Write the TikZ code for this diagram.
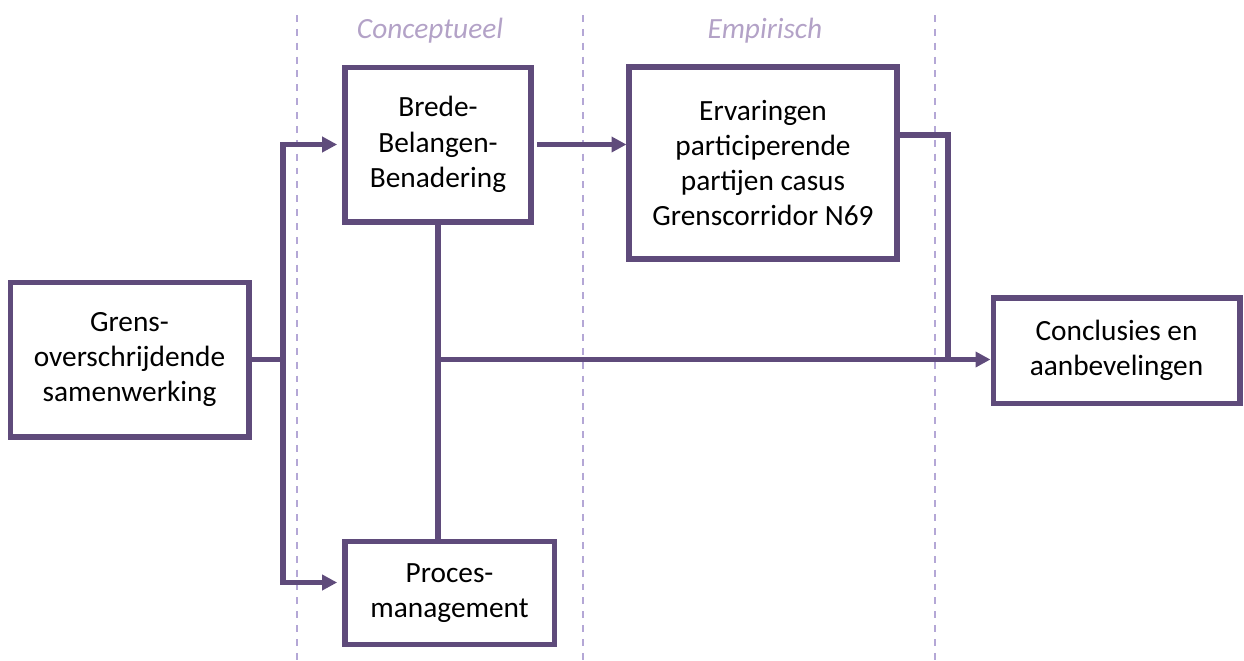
\documentclass[tikz,border=0pt]{standalone}
\usepackage{fontspec}
\setmainfont{Carlito}
\usetikzlibrary{positioning}
\usetikzlibrary{arrows.meta}
\definecolor{paars}{HTML}{5F4B7B}
\definecolor{lichtpaars}{HTML}{B4A7D6}
\definecolor{faselabel}{HTML}{B3A2C7}

\begin{document}
\begin{tikzpicture}[x=0.375pt,y=-0.375pt,>={Triangle[length=5.6pt,width=5.6pt]},
			rect/.style={draw=paars, 
				line width=1.9pt,
				rectangle, 
				fill=white,
				inner sep=2pt,
				font=\fontsize{11}{13.2}\selectfont,
				align=center},
			conn/.style={draw=paars, line width=1.9pt},
			divider/.style={draw=lichtpaars, line width=0.75pt, dash pattern=on 2.6pt off 2.6pt},
			fase/.style={text=faselabel, font=\fontsize{11}{13.2}\selectfont\itshape}]
			\useasboundingbox (0,0) rectangle (1244,661);
			\foreach \x in {297,583,935}
				\draw[divider] (\x,15) -- (\x,661);
			\node[fase] (concept) at (430,31) {Conceptueel};
			\node[fase] (empir) at (765,31) {Empirisch};
			\node[rect, minimum width=89.6pt, minimum height=58.1pt] (grens) at (129.5,359.5) {Grens-\\overschrijdende\\samenwerking};
			\node[rect, minimum width=69.75pt, minimum height=58.1pt] (brede) at (438,144.5) {Brede-\\Belangen-\\Benadering};
			\node[rect, minimum width=78.4pt, minimum height=38.6pt, below=118pt of brede.south west, anchor=north west] (proces) {Proces-\\management};
			\node[rect, minimum width=100.5pt, minimum height=72pt] (ervaring) at (763,163) {Ervaringen\\participerende\\partijen casus\\Grenscorridor N69};
			\node[rect, minimum width=92.6pt, minimum height=39.4pt] (concl) at (1116.5,350.5) {Conclusies en\\aanbevelingen};
			\coordinate (split) at (283,359.5);
			\coordinate (hub) at (brede.south |- grens.east);
			\coordinate (merge) at (948,359.5);
			\draw[conn] (grens.east) -- (split);
			\draw[conn,->,shorten >=2pt] (split) |- (brede.west);
			\draw[conn,->,shorten >=2pt] (split) |- ([yshift=4pt]proces.west);
			\draw[conn,->,shorten <=1.3pt] (brede.east) -- (brede.east -| ervaring.west);
			\draw[conn] (brede.south) -- (brede.south |- proces.north);
			\draw[conn,->] (hub) -- (hub -| concl.west);
			\draw[conn] ([yshift=10.5pt]ervaring.east) -| (merge);
		\end{tikzpicture}
\end{document}
